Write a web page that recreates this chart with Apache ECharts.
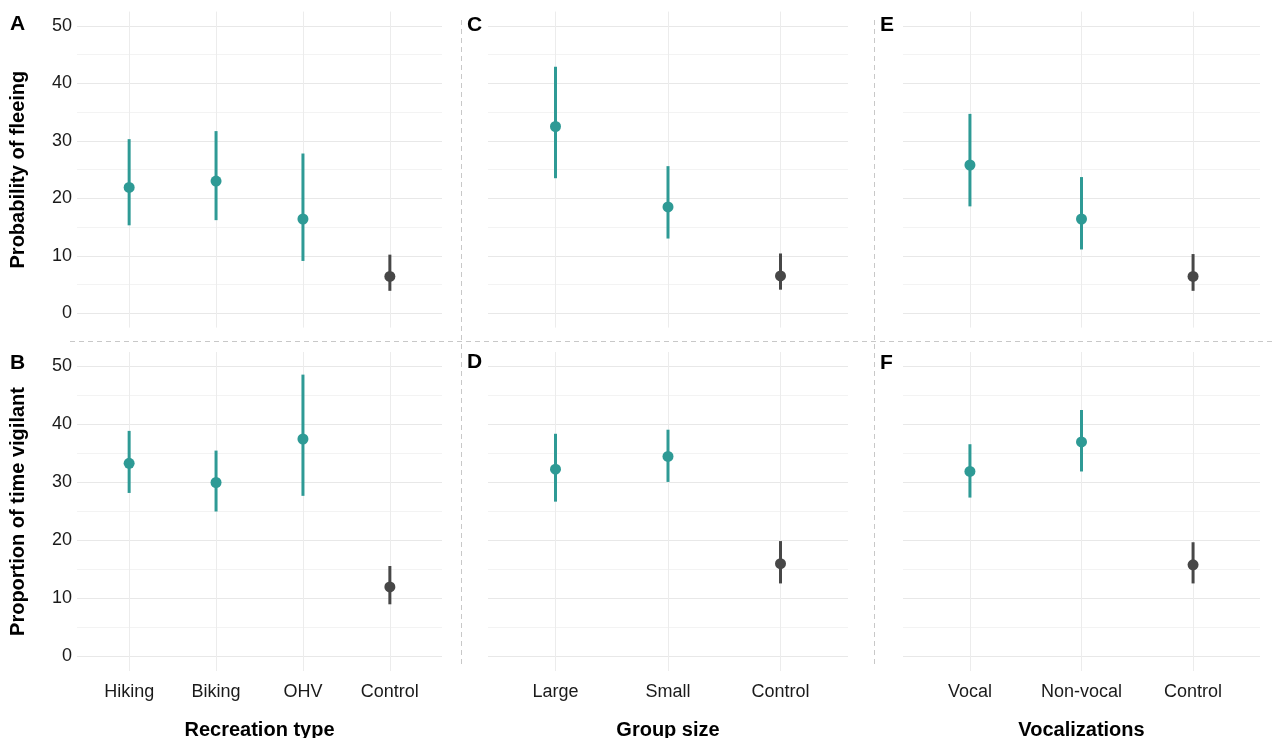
<!DOCTYPE html>
<html lang="en">

<head>
    <meta charset="UTF-8">
    <title>Flee and vigilance responses</title>
    <script src="https://cdn.jsdelivr.net/npm/echarts@6/dist/echarts.min.js"></script>
    <style>
        body {
            margin: 0;
            background: #fff;
        }

        #root {
            width: 1272px;
            height: 738px;
        }
    </style>
</head>

<body>

    <div id="root"></div>
    <script>

        // categories of each column
        var recreationTypes = ['Hiking', 'Biking', 'OHV', 'Control'];
        var groupSizes = ['Large', 'Small', 'Control'];
        var vocalTypes = ['Vocal', 'Non-vocal', 'Control'];

        // [estimate, lower, upper] per category
        var fleeRecreation = [[21.9, 15.3, 30.3], [23.0, 16.2, 31.7], [16.4, 9.1, 27.8], [6.4, 3.9, 10.2]];
        var vigilRecreation = [[33.3, 28.2, 38.9], [30.0, 25.0, 35.5], [37.5, 27.7, 48.6], [12.0, 9.0, 15.6]];
        var fleeGroup = [[32.5, 23.5, 42.9], [18.5, 13.0, 25.6], [6.5, 4.1, 10.4]];
        var vigilGroup = [[32.3, 26.7, 38.4], [34.5, 30.1, 39.1], [16.0, 12.6, 19.9]];
        var fleeVocal = [[25.8, 18.6, 34.7], [16.4, 11.1, 23.7], [6.4, 3.9, 10.3]];
        var vigilVocal = [[31.9, 27.4, 36.6], [37.0, 31.9, 42.5], [15.8, 12.6, 19.7]];

        var yLabelTicks = [0, 10, 20, 30, 40, 50];
        var yGridTicks = [0, 5, 10, 15, 20, 25, 30, 35, 40, 45, 50];

        var TEAL = '#2e9a95';
        var DARK = '#474747';
        var FONT = '"Liberation Sans", Arial, sans-serif';

        var mychart = echarts.init(document.getElementById('root'));

        // panel boxes: [left, width] per column, [top, height] per row
        var cols = [[77, 365], [488, 360], [903, 357]];
        var rows = [[11.6, 316], [352, 319]];

        var panels = [
            { col: 0, row: 0, cats: recreationTypes, data: fleeRecreation },
            { col: 0, row: 1, cats: recreationTypes, data: vigilRecreation, xName: 'Recreation type' },
            { col: 1, row: 0, cats: groupSizes, data: fleeGroup },
            { col: 1, row: 1, cats: groupSizes, data: vigilGroup, xName: 'Group size' },
            { col: 2, row: 0, cats: vocalTypes, data: fleeVocal },
            { col: 2, row: 1, cats: vocalTypes, data: vigilVocal, xName: 'Vocalizations' }
        ];

        var grids = [], xAxes = [], yAxes = [], series = [];

        panels.forEach(function (p, i) {
            grids.push({
                left: cols[p.col][0], width: cols[p.col][1],
                top: rows[p.row][0], height: rows[p.row][1],
                outerBoundsMode: 'none',
                containLabel: false
            });

            var n = p.cats.length;
            var ticks = p.cats.map(function (c, k) { return k + 1; });

            xAxes.push({
                type: 'value', gridIndex: i,
                min: 0.4, max: n + 0.6,
                name: p.xName || '',
                nameLocation: 'middle', nameGap: 49,
                nameTextStyle: { fontFamily: FONT, fontSize: 20, fontWeight: 'bold', color: '#000' },
                axisLine: { show: false },
                axisTick: { show: false, customValues: ticks },
                axisLabel: {
                    show: p.row === 1,
                    customValues: ticks,
                    margin: 12,
                    fontFamily: FONT, fontSize: 18, color: '#1a1a1a',
                    formatter: function (v) { return p.cats[Math.round(v) - 1]; }
                },
                splitLine: { show: true, lineStyle: { color: '#ececec', width: 1 } }
            });

            yAxes.push({
                type: 'value', gridIndex: i,
                min: -2.5, max: 52.5,
                name: p.col === 0 ? (p.row === 0 ? 'Probability of fleeing' : 'Proportion of time vigilant') : '',
                nameLocation: 'middle', nameGap: 49,
                nameTextStyle: { fontFamily: FONT, fontSize: 20, fontWeight: 'bold', color: '#000' },
                axisLine: { show: false },
                axisTick: { show: false, customValues: yGridTicks },
                axisLabel: {
                    show: p.col === 0,
                    customValues: yLabelTicks,
                    margin: 5,
                    fontFamily: FONT, fontSize: 18, color: '#1a1a1a'
                },
                splitLine: { show: true, lineStyle: { color: ['#e8e8e8', '#f3f3f3'], width: 1 } }
            });

            series.push({
                type: 'custom',
                xAxisIndex: i, yAxisIndex: i,
                data: p.data.map(function (d, k) {
                    return {
                        value: [k + 1, d[0], d[1], d[2]],
                        itemStyle: { color: k === n - 1 ? DARK : TEAL }
                    };
                }),
                renderItem: function (params, api) {
                    var x = api.value(0);
                    var mid = api.coord([x, api.value(1)]);
                    var lo = api.coord([x, api.value(2)]);
                    var hi = api.coord([x, api.value(3)]);
                    var color = api.visual('color');
                    return {
                        type: 'group',
                        children: [{
                            type: 'line',
                            shape: { x1: lo[0], y1: lo[1], x2: hi[0], y2: hi[1] },
                            style: { stroke: color, lineWidth: 3 }
                        }, {
                            type: 'circle',
                            shape: { cx: mid[0], cy: mid[1], r: 5.5 },
                            style: { fill: color }
                        }]
                    };
                }
            });
        });

        // panel letters and dashed panel borders
        var letters = [['A', 10, 26], ['B', 10, 365], ['C', 467, 27], ['D', 467, 364], ['E', 880, 27], ['F', 880, 365]];
        var graphics = letters.map(function (l) {
            return {
                type: 'text', left: l[1], top: l[2] - 12,
                style: { text: l[0], font: 'bold 21px ' + FONT, fill: '#000' }
            };
        });
        var dash = { stroke: '#c8c8c8', lineWidth: 1, lineDash: [5, 4] };
        graphics.push(
            { type: 'line', shape: { x1: 70, y1: 341.5, x2: 1272, y2: 341.5 }, style: dash },
            { type: 'line', shape: { x1: 461.5, y1: 20, x2: 461.5, y2: 665 }, style: dash },
            { type: 'line', shape: { x1: 874.5, y1: 20, x2: 874.5, y2: 665 }, style: dash }
        );

        mychart.setOption({
            animation: false,
            grid: grids,
            xAxis: xAxes,
            yAxis: yAxes,
            series: series,
            graphic: graphics
        });

    </script>

</body>

</html>
